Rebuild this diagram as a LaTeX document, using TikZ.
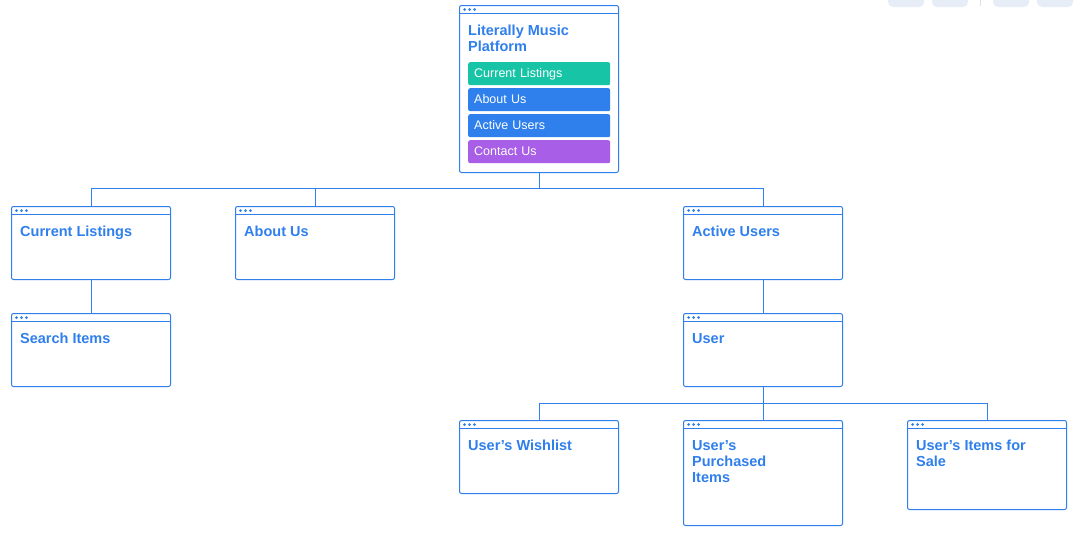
\documentclass[tikz,border=0pt]{standalone}
\usepackage{fontspec}
\setmainfont{Liberation Sans}
\definecolor{ink}{HTML}{2F7FEC}
\definecolor{tealb}{HTML}{17C4A6}
\definecolor{blueb}{HTML}{2F80ED}
\definecolor{purpb}{HTML}{A85EE6}
\definecolor{faint}{HTML}{E6EDF6}
\definecolor{faintline}{HTML}{DCE2EA}
\begin{document}
\begin{tikzpicture}[x=1pt,y=-1pt,
  win/.style={draw=ink, line width=1pt, rounded corners=2pt, fill=white,
    anchor=north west, inner sep=0pt, minimum width=159pt,
    path picture={
      \draw[ink, line width=1pt] ([yshift=-8pt]path picture bounding box.north west) -- ([yshift=-8pt]path picture bounding box.north east);
      \fill[ink] ([xshift=5pt,yshift=-4pt]path picture bounding box.north west) circle (1.5pt)
                 ([xshift=10pt,yshift=-4pt]path picture bounding box.north west) circle (1.5pt)
                 ([xshift=15pt,yshift=-4pt]path picture bounding box.north west) circle (1.5pt);
    }},
  ttl/.style={text=ink, font=\fontsize{14.5}{16}\selectfont\bfseries, inner sep=0pt, anchor=base west, align=left},
  btn/.style={text=white, font=\fontsize{12.5}{14}\selectfont, anchor=north west, inner xsep=6pt, inner ysep=0pt,
    minimum width=142pt, minimum height=23pt, text width=130pt, text height=11pt, text depth=2.5pt,
    align=left, rounded corners=2pt},
  link/.style={draw=ink, line width=1pt},
  tool/.style={fill=faint, rounded corners=5pt}
]
\useasboundingbox (0,0) rectangle (1082,541);
\fill[white] (0,0) rectangle (1082,541);
% faint toolbar at top right
\path[tool] (888,-6) rectangle (924,7);
\path[tool] (932,-6) rectangle (968,7);
\path[tool] (993,-6) rectangle (1029,7);
\path[tool] (1037,-6) rectangle (1073,7);
\draw[faintline, line width=0.8pt] (980,0) -- (980,6);

% windows
\node[win, minimum height=167pt] (root) at (459,5) {};
\node[win, minimum height=73pt] (cl) at (11,206) {};
\node[win, minimum height=73pt] (about) at (235,206) {};
\node[win, minimum height=73pt] (active) at (683,206) {};
\node[win, minimum height=73pt] (search) at (11,313) {};
\node[win, minimum height=73pt] (user) at (683,313) {};
\node[win, minimum height=73pt] (wish) at (459,420) {};
\node[win, minimum height=105pt] (purch) at (683,420) {};
\node[win, minimum height=89pt] (sale) at (907,420) {};

% titles
\node[ttl] (rootT) at ([xshift=9pt,yshift=-30pt]root.north west) {Literally Music};
\node[ttl] (rootT2) at ([xshift=9pt,yshift=-46pt]root.north west) {Platform};
\node[ttl] (clT) at ([xshift=9pt,yshift=-30pt]cl.north west) {Current Listings};
\node[ttl] (aboutT) at ([xshift=9pt,yshift=-30pt]about.north west) {About Us};
\node[ttl] (activeT) at ([xshift=9pt,yshift=-30pt]active.north west) {Active Users};
\node[ttl] (searchT) at ([xshift=9pt,yshift=-30pt]search.north west) {Search Items};
\node[ttl] (userT) at ([xshift=9pt,yshift=-30pt]user.north west) {User};
\node[ttl] (wishT) at ([xshift=9pt,yshift=-30pt]wish.north west) {User's Wishlist};
\node[ttl] (purchT) at ([xshift=9pt,yshift=-30pt]purch.north west) {User's};
\node[ttl] (purchT2) at ([xshift=9pt,yshift=-46pt]purch.north west) {Purchased};
\node[ttl] (purchT3) at ([xshift=9pt,yshift=-62pt]purch.north west) {Items};
\node[ttl] (saleT) at ([xshift=9pt,yshift=-30pt]sale.north west) {User's Items for};
\node[ttl] (saleT2) at ([xshift=9pt,yshift=-46pt]sale.north west) {Sale};

% buttons
\node[btn, fill=tealb] (b1) at (468,62) {Current Listings};
\node[btn, fill=blueb] (b2) at (468,88) {About Us};
\node[btn, fill=blueb] (b3) at (468,114) {Active Users};
\node[btn, fill=purpb] (b4) at (468,140) {Contact Us};

% connectors
\coordinate (j1) at (538.5,188);
\coordinate (j2) at (762.5,403);
\draw[link] (root.south) |- (j1);
\draw[link] (j1) -| (cl.north);
\draw[link] (j1) -| (about.north);
\draw[link] (j1) -| (active.north);
\draw[link] (cl.south) -- (search.north);
\draw[link] (active.south) -- (user.north);
\draw[link] (user.south) |- (j2);
\draw[link] (j2) -| (wish.north);
\draw[link] (j2) -| (purch.north);
\draw[link] (j2) -| (sale.north);
\end{tikzpicture}
\end{document}
